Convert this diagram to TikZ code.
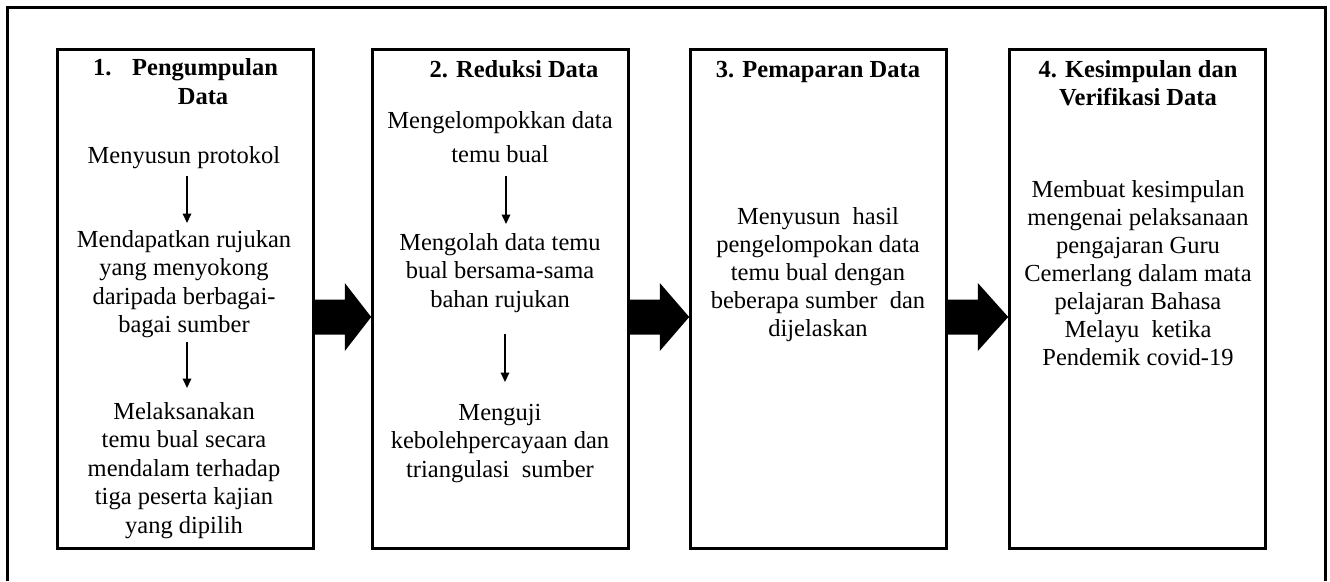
\documentclass[tikz,border=0pt]{standalone}
\usepackage{fontspec}
\setmainfont{Liberation Serif}
\usetikzlibrary{arrows.meta,calc}
\begin{document}
\begin{tikzpicture}[x=1pt,y=-1pt,
  stage/.style={draw=black,line width=2.6pt,minimum width=256pt,minimum height=499pt,inner sep=0pt},
  ttl/.style={font=\fontsize{24.5}{28}\selectfont\bfseries,inner sep=0pt,align=center},
  body/.style={font=\fontsize{24.5}{28.5}\selectfont,inner sep=0pt,align=center,anchor=base},
  arr/.style={line width=2pt,-{Triangle[width=8.5pt,length=9.5pt]}},
  blk/.style={fill=black}]
\useasboundingbox (0,0) rectangle (1330,581);
\draw[line width=3.2pt] (7.5,581) -- (7.5,7.5) -- (1325.5,7.5) -- (1325.5,581);
% boxes
\node[stage] (b1) at (185.5,299) {};
\node[stage] (b2) at (500.5,299) {};
\node[stage] (b3) at (818.5,299) {};
\node[stage] (b4) at (1137.5,299) {};
% titles
\node[ttl,anchor=base west] (t1a) at (93,75) {1.};
\node[ttl,anchor=base west] (t1b) at (132,75) {Pengumpulan};
\node[ttl,anchor=base] (t1c) at (203,104) {Data};
\node[ttl,anchor=base] (t2) at (514,77) {2. Reduksi Data};
\node[ttl,anchor=base] (t3) at (818,77) {3. Pemaparan Data};
\node[ttl,anchor=base] (t4) at (1138,105) {4. Kesimpulan dan\\Verifikasi Data};
% box 1 (anchor base = last line's baseline)
\node[body] (s11) at (184,163) {Menyusun protokol};
\node[body] (s12) at (184,332.5) {Mendapatkan rujukan\\yang menyokong\\daripada berbagai-\\bagai sumber};
\node[body] (s13) at (184,533) {Melaksanakan\\temu bual secara\\mendalam terhadap\\tiga peserta kajian\\yang dipilih};
\coordinate (a11s) at (187,176);
\coordinate (a11e) at (187,223);
\coordinate (a12s) at (187,342);
\coordinate (a12e) at (187,388);
\draw[arr] (a11s) -- (a11e);
\draw[arr] (a12s) -- (a12e);
% box 2
\node[body] (s21) at (500,162.5) {Mengelompokkan data\\[6pt]temu bual};
\node[body] (s22) at (500,307) {Mengolah data temu\\bual bersama-sama\\bahan rujukan};
\node[body] (s23) at (500,477) {Menguji\\kebolehpercayaan dan\\triangulasi\ \ sumber};
\coordinate (a21s) at (506,176);
\coordinate (a21e) at (506,224);
\coordinate (a22s) at (505,334);
\coordinate (a22e) at (505,382);
\draw[arr] (a21s) -- (a21e);
\draw[arr] (a22s) -- (a22e);
% box 3
\node[body,font=\fontsize{24.5}{28}\selectfont] (s31) at (818,336) {Menyusun\ \ hasil\\pengelompokan data\\temu bual dengan\\beberapa sumber\ \ dan\\dijelaskan};
% box 4
\node[body,font=\fontsize{24.5}{28}\selectfont] (s41) at (1138,365) {Membuat kesimpulan\\mengenai pelaksanaan\\pengajaran Guru\\Cemerlang dalam mata\\pelajaran Bahasa\\Melayu\ \ ketika\\Pendemik covid-19};
% block arrows
\foreach \a/\b in {b1/b2,b2/b3,b3/b4}{
  \fill[blk] ($(\a.east)+(0,0.5)$) -- ($(\a.east)+(30,0.5)$) -- ($(\a.east)+(30,-16)$)
    -- ($(\b.west)+(0,18)$) -- ($(\a.east)+(30,52)$) -- ($(\a.east)+(30,35.5)$) -- ($(\a.east)+(0,35.5)$) -- cycle;
}
\end{tikzpicture}
\end{document}
